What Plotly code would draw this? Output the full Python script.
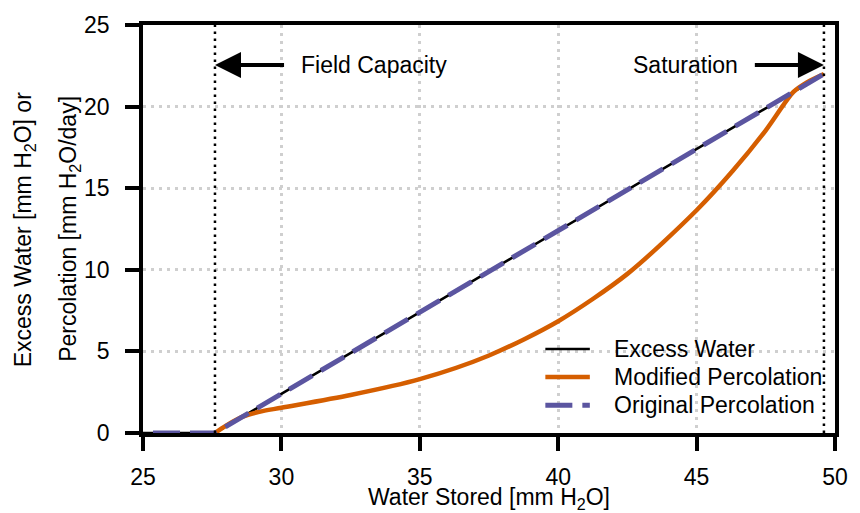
import plotly.graph_objects as go

# Data
excess_x = [25, 27.6, 49.6]
excess_y = [0, 0, 22]
orig_x = [25, 27.6, 49.6]
orig_y = [0, 0, 22]
mod_x = [27.6, 28.0, 28.6, 29.2, 30.0, 32.5, 35.0, 37.5, 40.0, 42.5, 45.0, 46.3, 47.5, 48.5, 49.0, 49.6]
mod_y = [0, 0.45, 1.0, 1.3, 1.55, 2.33, 3.3, 4.75, 6.85, 9.75, 13.65, 16.05, 18.55, 20.9, 21.5, 22.0]
field_capacity = 27.6
saturation = 49.6
x_ticks = [25, 30, 35, 40, 45, 50]
y_ticks = [0, 5, 10, 15, 20, 25]
legend_names = ["Excess Water", "Modified Percolation", "Original Percolation"]
colors = ["black", "#D55E00", "#5B55A0"]
widths = [2.5, 4.5, 5]
dashes = ["solid", "solid", "0px,10px,27px,0px"]
legend_dashes = ["solid", "solid", "27px,10px"]

FONT = "Liberation Sans, Arial, sans-serif"
FS = 23

W, H = 860, 513
ml, mr, mt, mb = 143, 17, 22, 80
pw, ph = W - ml - mr, H - mt - mb

def px_x(px):
    return (px - ml) / pw

def px_y(py):
    return (H - mb - py) / ph

fig = go.Figure()
series = [(excess_x, excess_y), (mod_x, mod_y), (orig_x, orig_y)]
for (xs, ys), nm, c, w, d in zip(series, legend_names, colors, widths, dashes):
    fig.add_trace(go.Scatter(x=xs, y=ys, mode="lines", name=nm, showlegend=False,
                             line=dict(color=c, width=w, dash=d,
                                       shape="spline" if nm.startswith("Mod") else "linear",
                                       smoothing=0.8)))

# vertical dotted lines
for xv in [field_capacity, saturation]:
    fig.add_shape(type="line", x0=xv, x1=xv, y0=0, y1=25, xref="x", yref="y",
                  line=dict(color="black", width=2.5, dash="2.5px,4.5px"), layer="above")

# arrows
fig.add_annotation(x=field_capacity, y=22.55, ax=30.15, ay=22.55, xref="x", yref="y",
                   axref="x", ayref="y", text="", showarrow=True, arrowhead=2,
                   arrowsize=1.3, arrowwidth=4, arrowcolor="black")
fig.add_annotation(x=30.62, y=22.55, xref="x", yref="y", text="Field Capacity",
                   showarrow=False, xanchor="left", yanchor="middle",
                   font=dict(family=FONT, size=FS, color="black"))
fig.add_annotation(x=saturation, y=22.55, ax=47.05, ay=22.55, xref="x", yref="y",
                   axref="x", ayref="y", text="", showarrow=True, arrowhead=2,
                   arrowsize=1.3, arrowwidth=4, arrowcolor="black")
fig.add_annotation(x=46.55, y=22.55, xref="x", yref="y", text="Saturation",
                   showarrow=False, xanchor="right", yanchor="middle",
                   font=dict(family=FONT, size=FS, color="black"))

# y-axis title as two rotated lines
fig.add_annotation(x=px_x(23), y=px_y(227.5), xref="paper", yref="paper",
                   text="Excess Water [mm H<sub>2</sub>O] or", xanchor="center", yanchor="middle",
                   showarrow=False, textangle=-90, font=dict(family=FONT, size=FS, color="black"))
fig.add_annotation(x=px_x(68), y=px_y(227.5), xref="paper", yref="paper",
                   text="Percolation [mm H<sub>2</sub>O/day]", xanchor="center", yanchor="middle",
                   showarrow=False, textangle=-90, font=dict(family=FONT, size=FS, color="black"))

fig.add_annotation(x=0.5, y=px_y(499), xref="paper", yref="paper",
                   text="Water Stored [mm H<sub>2</sub>O]", showarrow=False,
                   xanchor="center", yanchor="middle",
                   font=dict(family=FONT, size=FS, color="black"))

# manual legend
leg_y = [348.3, 376.7, 405]
for nm, c, w, d, yy in zip(legend_names, colors, widths, legend_dashes, leg_y):
    fig.add_shape(type="line", xref="paper", yref="paper", x0=px_x(550), x1=px_x(595),
                  y0=px_y(yy), y1=px_y(yy), line=dict(color=c, width=w, dash=d))
    fig.add_annotation(x=px_x(617), y=px_y(yy), xref="paper", yref="paper", text=nm,
                       showarrow=False, xanchor="left", yanchor="middle",
                       font=dict(family=FONT, size=FS, color="black"))

axis_common = dict(showline=True, linecolor="black", linewidth=3.5, mirror=True,
                   ticks="outside", ticklen=14, tickwidth=3.5, tickcolor="black",
                   showgrid=True, gridcolor="#cfcfcf", gridwidth=2.5, griddash="2.5px,5.5px",
                   zeroline=False, tickfont=dict(family=FONT, size=FS, color="black"))

fig.update_xaxes(range=[25, 50], tickvals=x_ticks, ticklabelstandoff=7, **axis_common)
fig.update_yaxes(range=[0, 25], tickvals=y_ticks, ticklabelstandoff=11, **axis_common)

fig.update_layout(
    width=W, height=H,
    margin=dict(l=ml, r=mr, t=mt, b=mb),
    paper_bgcolor="white", plot_bgcolor="white",
    font=dict(family=FONT, size=FS, color="black"),
    showlegend=False,
)

fig.write_html("out.html")
